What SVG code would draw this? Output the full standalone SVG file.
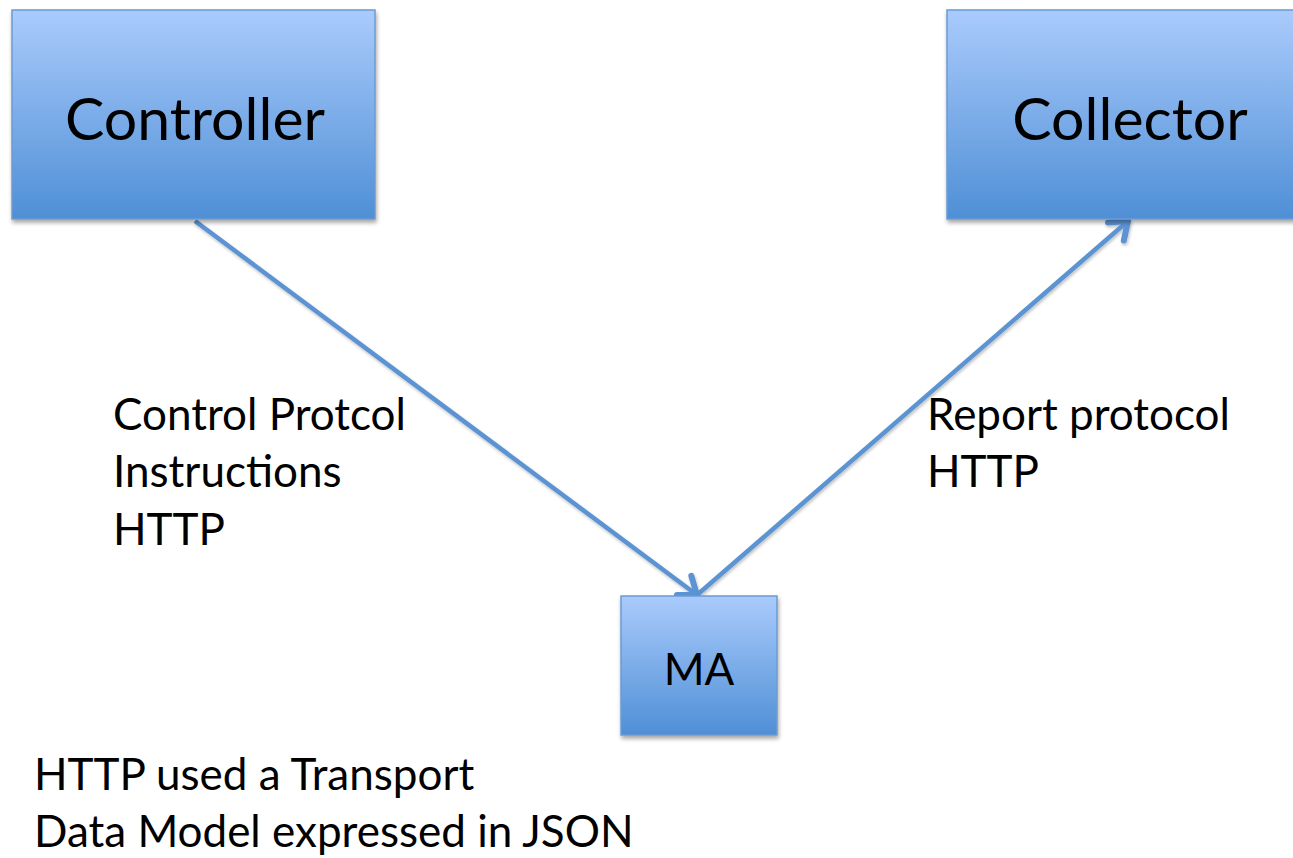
<svg xmlns="http://www.w3.org/2000/svg" width="1293" height="858" viewBox="0 0 1293 858">
  <style>
    .box { stroke: #6b9bd3; stroke-width: 1.5; fill: url(#boxFill); filter: url(#shade); }
    .big { font-family: Lato, "Open Sans", sans-serif; font-size: 59px; fill: #000; text-anchor: middle; }
    .txt { font-family: Lato, "Open Sans", sans-serif; font-size: 44px; fill: #000; }
    .link { stroke: #5b93d2; stroke-width: 4.5; fill: none; marker-end: url(#openArrow); }
  </style>
  <defs>
    <linearGradient id="boxFill" x1="0" y1="0" x2="0" y2="1">
      <stop offset="0" stop-color="#aacbfc"/>
      <stop offset="1" stop-color="#4f8fd6"/>
    </linearGradient>
    <filter id="shade" x="-10%" y="-10%" width="125%" height="130%">
      <feDropShadow dx="1" dy="3" stdDeviation="2" flood-color="#000" flood-opacity="0.35"/>
    </filter>
    <filter id="lineShade" x="-10%" y="-10%" width="125%" height="130%">
      <feDropShadow dx="1" dy="2" stdDeviation="1.5" flood-color="#000" flood-opacity="0.25"/>
    </filter>
    <marker id="openArrow" markerUnits="userSpaceOnUse" markerWidth="40" markerHeight="40" refX="30" refY="20" orient="auto" overflow="visible">
      <path d="M14,8 L30,20 L14,32" fill="none" stroke="#5b93d2" stroke-width="6" stroke-linecap="round" stroke-linejoin="round"/>
    </marker>
  </defs>

  <rect width="1293" height="858" fill="#fff"/>

  <g id="connectors" filter="url(#lineShade)">
    <line class="link" x1="195" y1="221" x2="697" y2="595"/>
    <line class="link" x1="697" y1="595" x2="1128" y2="221"/>
  </g>

  <g id="controller">
    <rect class="box" x="12" y="10" width="363" height="209"/>
    <text class="big" x="195" y="140">Controller</text>
  </g>

  <g id="collector">
    <rect class="box" x="947" y="10" width="360" height="209"/>
    <text class="big" x="1130" y="140">Collector</text>
  </g>

  <g id="ma">
    <rect class="box" x="621" y="596" width="156" height="139"/>
    <text class="txt" x="699" y="685" text-anchor="middle">MA</text>
  </g>

  <g id="control-label">
    <text class="txt" x="113" y="430">Control Protcol</text>
    <text class="txt" x="113" y="487">Instructions</text>
    <text class="txt" x="113" y="545">HTTP</text>
  </g>

  <g id="report-label">
    <text class="txt" x="927" y="430">Report protocol</text>
    <text class="txt" x="927" y="487">HTTP</text>
  </g>

  <g id="notes">
    <text class="txt" x="34" y="790">HTTP used a Transport</text>
    <text class="txt" x="34" y="847">Data Model expressed in JSON</text>
  </g>
</svg>
